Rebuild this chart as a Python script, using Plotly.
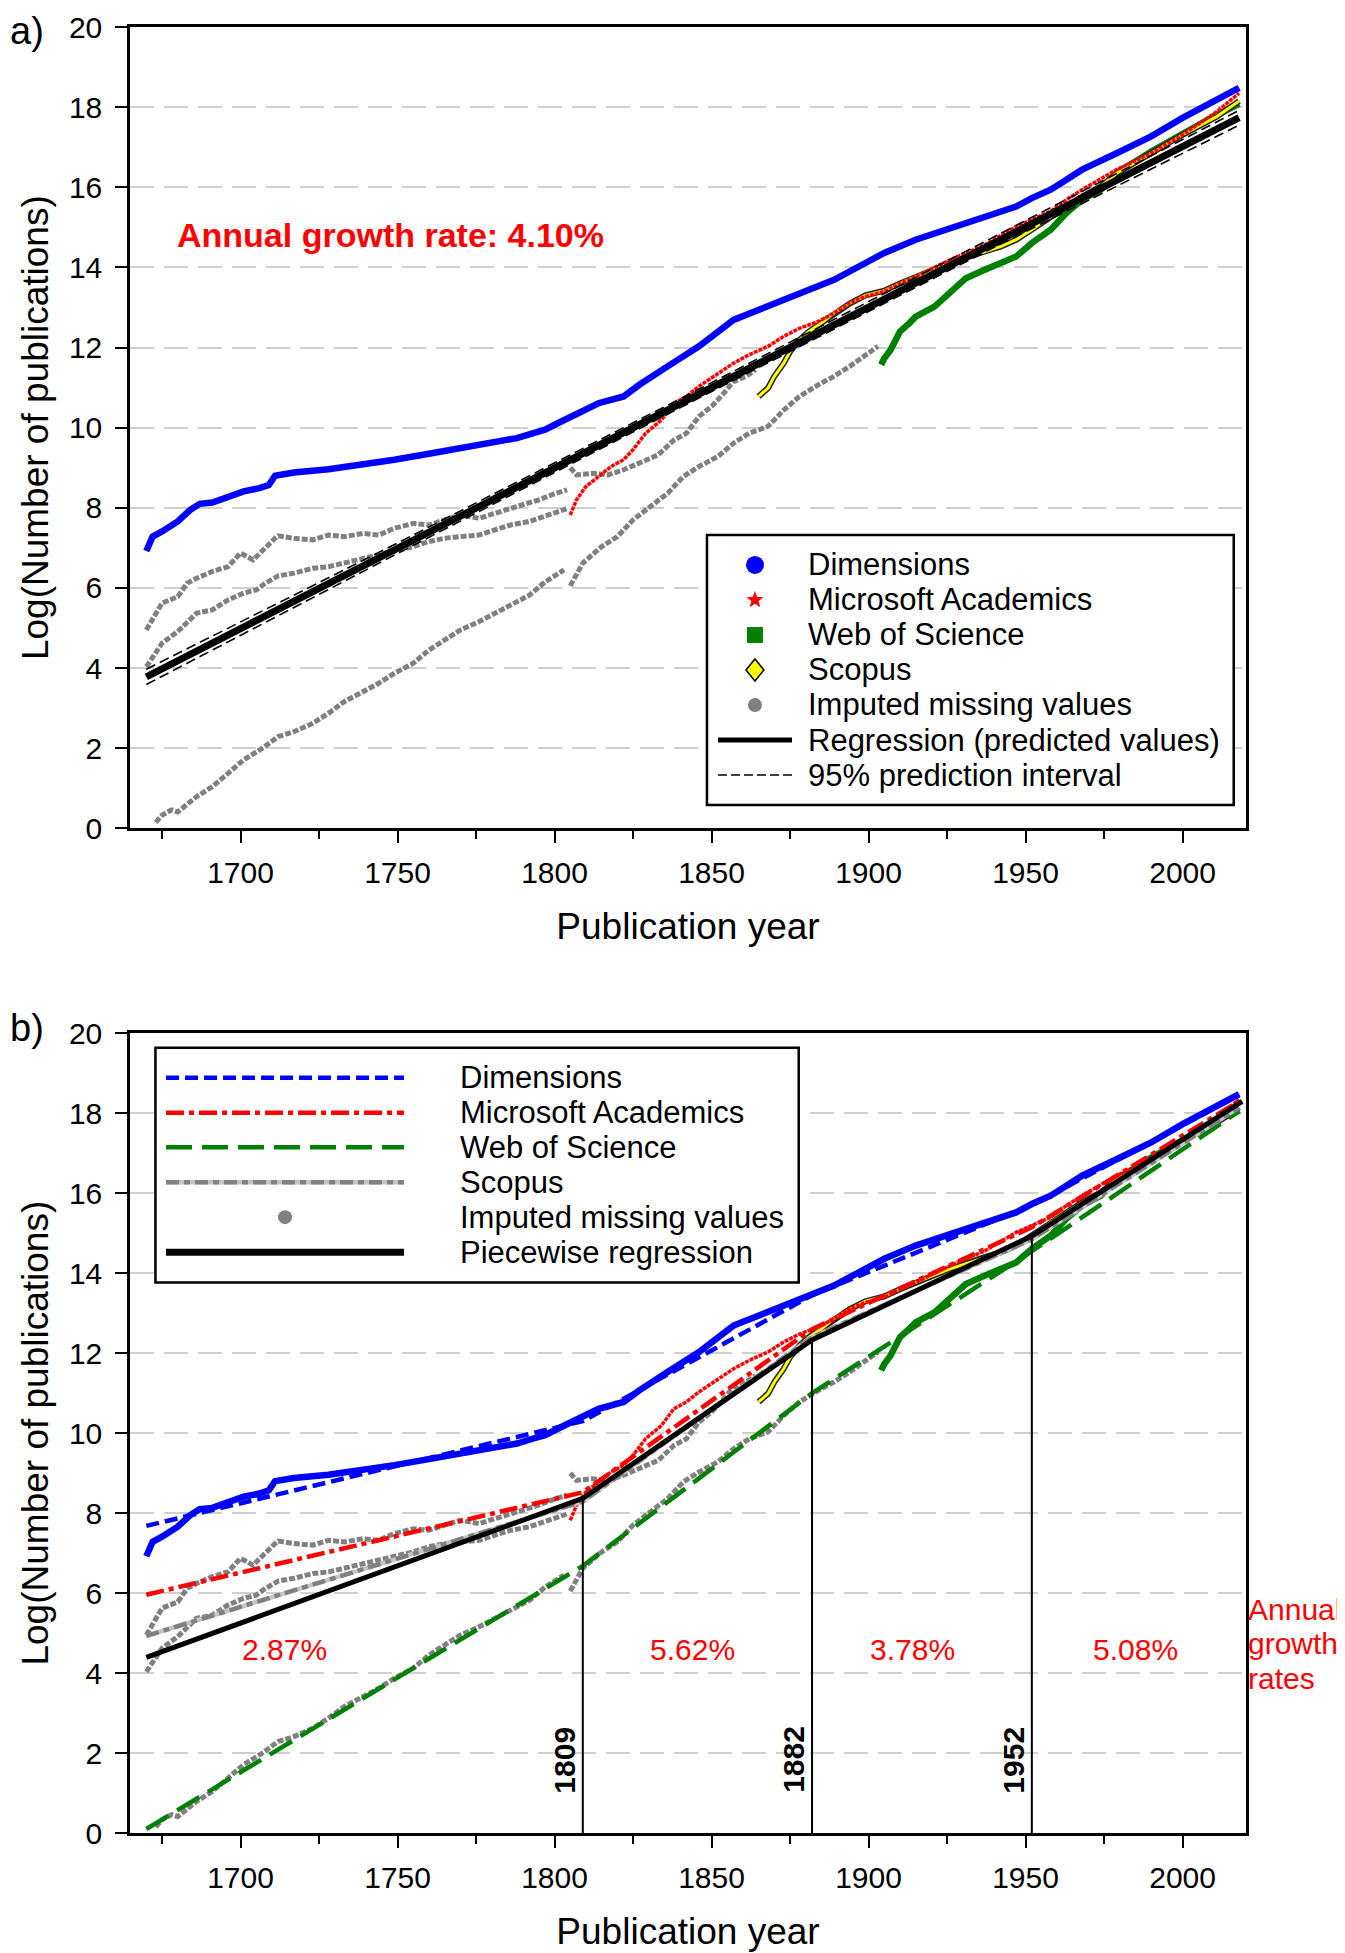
import math
import plotly.graph_objects as go

# ---------------- data ----------------
dim_years = [1670, 1672, 1675, 1680, 1684, 1687, 1691, 1696, 1701, 1706, 1709, 1711, 1717, 1728, 1738,
             1749, 1760, 1770, 1781, 1788, 1793, 1797, 1801, 1809, 1814, 1822, 1827, 1836, 1846, 1857,
             1868, 1878, 1889, 1899, 1905, 1915, 1926, 1936, 1942, 1947, 1952, 1958, 1963, 1968, 1979,
             1990, 2000, 2011, 2018]
dim_vals = [6.92, 7.28, 7.41, 7.66, 7.95, 8.10, 8.13, 8.28, 8.41, 8.49, 8.57, 8.80, 8.88, 8.96, 9.06,
            9.20, 9.35, 9.49, 9.61, 9.74, 9.86, 9.95, 10.11, 10.40, 10.61, 10.78, 11.07, 11.53, 12.03, 12.69,
            13.03, 13.36, 13.69, 14.11, 14.36, 14.69, 14.98, 15.27, 15.40, 15.52, 15.73, 15.94, 16.19, 16.44, 16.85,
            17.27, 17.73, 18.19, 18.48]

ma_years = [1805, 1807, 1810, 1815, 1818, 1822, 1825, 1829, 1834, 1838, 1842, 1846, 1852, 1857, 1862,
            1868, 1873, 1878, 1884, 1889, 1894, 1899, 1905, 1910, 1915, 1926, 1937, 1947, 1958, 1963,
            1968, 1979, 1990, 2000, 2011, 2018]
ma_vals = [7.82, 8.20, 8.53, 8.86, 9.03, 9.20, 9.45, 9.86, 10.19, 10.61, 10.78, 11.03, 11.36, 11.61, 11.82,
           12.03, 12.28, 12.48, 12.65, 12.86, 13.11, 13.27, 13.40, 13.60, 13.77, 14.19, 14.56, 15.02, 15.40, 15.69,
           15.94, 16.44, 16.85, 17.31, 17.89, 18.35]

wos_years = [1904, 1905, 1907, 1908, 1910, 1913, 1915, 1921, 1926, 1931, 1937, 1942, 1947, 1952, 1958,
             1963, 1968, 1974, 1979, 1990, 2000, 2011, 2018]
wos_vals = [11.57, 11.73, 11.94, 12.11, 12.40, 12.61, 12.77, 13.02, 13.36, 13.73, 13.94, 14.11, 14.27, 14.61, 14.94,
            15.36, 15.69, 15.94, 16.35, 16.89, 17.35, 17.81, 18.08]

scopus_years = [1865, 1868, 1870, 1873, 1875, 1878, 1881, 1885, 1889, 1894, 1899, 1905, 1910, 1915, 1926,
                1937, 1942, 1947, 1952, 1958, 1963, 1968, 1974, 1979, 1990, 2000, 2011, 2018]
scopus_vals = [10.78, 10.99, 11.28, 11.61, 11.90, 12.19, 12.40, 12.61, 12.86, 13.10, 13.30, 13.42, 13.60, 13.77, 14.11,
               14.40, 14.52, 14.69, 14.94, 15.27, 15.52, 15.77, 16.02, 16.35, 16.85, 17.31, 17.77, 18.15]

# imputed missing values (grey)
ma_imp_years = [1670, 1672, 1675, 1680, 1683, 1686, 1691, 1696, 1700, 1704, 1707, 1711, 1712, 1717, 1723,
                1728, 1733, 1739, 1744, 1749, 1755, 1760, 1765, 1770, 1776, 1781, 1784, 1790, 1795, 1800, 1804]
ma_imp_vals = [4.95, 5.24, 5.62, 5.78, 6.12, 6.24, 6.41, 6.53, 6.87, 6.70, 6.95, 7.24, 7.30, 7.24, 7.20,
               7.32, 7.28, 7.36, 7.32, 7.49, 7.61, 7.57, 7.70, 7.82, 7.74, 7.86, 7.95, 8.10, 8.20, 8.35, 8.45]

scopus_imp1_years = [1670, 1672, 1675, 1680, 1686, 1691, 1696, 1701, 1705, 1708, 1712, 1717, 1723, 1728, 1733,
                     1739, 1744, 1749, 1755, 1760, 1765, 1770, 1776, 1781, 1786, 1792, 1797, 1801, 1804]
scopus_imp1_vals = [4.03, 4.29, 4.62, 4.91, 5.37, 5.45, 5.70, 5.87, 5.95, 6.12, 6.30, 6.37, 6.49, 6.53, 6.62,
                    6.74, 6.82, 6.91, 7.03, 7.16, 7.24, 7.28, 7.32, 7.45, 7.57, 7.66, 7.78, 7.90, 7.98]
scopus_imp2_years = [1805, 1807, 1812, 1817, 1822, 1827, 1833, 1838, 1842, 1846, 1850, 1853, 1857, 1861, 1864]
scopus_imp2_vals = [9.00, 8.82, 8.86, 8.82, 8.95, 9.11, 9.32, 9.69, 9.86, 10.28, 10.53, 10.78, 11.15, 11.28, 11.44]

wos_imp1_years = [1673, 1675, 1678, 1680, 1686, 1691, 1696, 1701, 1707, 1712, 1717, 1723, 1728, 1733, 1739,
                  1744, 1749, 1755, 1760, 1765, 1770, 1776, 1781, 1786, 1792, 1797, 1803]
wos_imp1_vals = [0.15, 0.33, 0.46, 0.41, 0.79, 1.04, 1.37, 1.71, 2.00, 2.29, 2.41, 2.62, 2.87, 3.16, 3.41,
                 3.62, 3.87, 4.12, 4.45, 4.70, 4.95, 5.16, 5.37, 5.57, 5.82, 6.15, 6.45]
wos_imp2_years = [1805, 1809, 1815, 1820, 1825, 1829, 1836, 1841, 1846, 1852, 1857, 1862, 1868, 1873, 1878,
                  1884, 1889, 1894, 1899, 1903]
wos_imp2_vals = [6.05, 6.62, 7.03, 7.28, 7.70, 7.95, 8.36, 8.78, 9.03, 9.28, 9.61, 9.86, 10.03, 10.44, 10.78,
                 11.07, 11.28, 11.53, 11.82, 12.03]

# panel a: overall regression + 95% prediction interval
reg_years = [1670, 2018]
reg_vals = [3.78, 17.74]
pi_years = [1670, 1750, 1844, 1940, 2018]
pi_upper = [3.97, 7.12, 10.88, 14.76, 17.92]
pi_lower = [3.59, 6.86, 10.66, 14.50, 17.55]

# panel b: piecewise regressions
seg_years = [1670, 1809, 1882, 1952, 2018]
dim_reg = [7.68, 10.30, 13.45, 15.70, 18.45]
ma_reg = [5.96, 8.52, 12.60, 15.15, 18.30]
wos_reg = [0.10, 6.68, 11.00, 14.55, 18.05]
scopus_reg = [4.93, 8.29, 12.40, 14.85, 18.15]
pw_years = [1670, 1809, 1882, 1952, 2019]
pw_vals = [4.39, 8.37, 12.33, 14.93, 18.30]
break_years = [1809, 1882, 1952]
rate_labels = ["2.87%", "5.62%", "3.78%", "5.08%"]
rate_label_x = [1714, 1844, 1914, 1985]
rate_label_y = 4.6

# ---------------- styling ----------------
FONT = "Liberation Sans, Arial, Helvetica, sans-serif"
BLUE, RED, GREEN, YELLOW = "#0000ff", "#ff0000", "#008000", "#ffff00"
GREY, LGREY = "#808080", "#c4c4c4"

fig = go.Figure()


def line(xs, ys, ax, color, width, dash="solid"):
    xa, ya = ax
    fig.add_trace(go.Scatter(x=xs, y=ys, mode="lines", xaxis=xa, yaxis=ya,
                             line=dict(color=color, width=width, dash=dash),
                             showlegend=False, hoverinfo="skip"))


def data_series(ax):
    imp_dash = "6px,2px"
    line(ma_imp_years, ma_imp_vals, ax, GREY, 5, imp_dash)
    line(scopus_imp1_years, scopus_imp1_vals, ax, GREY, 5, imp_dash)
    line(scopus_imp2_years, scopus_imp2_vals, ax, GREY, 5, imp_dash)
    line(wos_imp1_years, wos_imp1_vals, ax, GREY, 5, imp_dash)
    line(wos_imp2_years, wos_imp2_vals, ax, GREY, 5, imp_dash)
    line(dim_years, dim_vals, ax, BLUE, 6.5)
    line(wos_years, wos_vals, ax, GREEN, 6.5)
    line(scopus_years, scopus_vals, ax, "#222222", 6)
    line(scopus_years, scopus_vals, ax, YELLOW, 3)
    line(ma_years, ma_vals, ax, RED, 3.5, "4px,1px")


A = ("x", "y")
B = ("x2", "y2")

# panel a
data_series(A)
line(pi_years, pi_upper, A, "black", 1.6, "10px,5px")
line(pi_years, pi_lower, A, "black", 1.6, "10px,5px")
line(reg_years, reg_vals, A, "black", 7)

# panel b
data_series(B)
line(seg_years, wos_reg, B, GREEN, 4.5, "26px,10px")
line(seg_years, scopus_reg, B, LGREY, 4.5)
line(seg_years, scopus_reg, B, GREY, 4.5, "13px,5px,6px,5px")
line(seg_years, ma_reg, B, RED, 4.5, "18px,5px,5px,5px")
line(seg_years, dim_reg, B, BLUE, 4.5, "13px,6px")
line(pw_years, pw_vals, B, "black", 5)
for yr in break_years:
    top = pw_vals[pw_years.index(yr)]
    line([yr, yr], [0, top], B, "black", 2)

# ---------------- axes ----------------
xcommon = dict(range=[1664.8, 2020.2], tick0=1700, dtick=50, ticks="outside", ticklen=12, tickwidth=2,
               tickcolor="black", showline=True, linecolor="black", linewidth=2.5, mirror=True,
               showgrid=False, zeroline=False, automargin=False,
               tickfont=dict(family=FONT, size=30, color="black"), ticklabelstandoff=4,
               minor=dict(dtick=25, tick0=1675, ticks="outside", ticklen=8, tickwidth=2, tickcolor="black",
                          showgrid=False),
               title=dict(text="Publication year", font=dict(family=FONT, size=37, color="black"), standoff=26))
ycommon = dict(range=[0, 20], dtick=2, ticks="outside", ticklen=12, tickwidth=2, tickcolor="black",
               showline=True, linecolor="black", linewidth=2.5, mirror=True, zeroline=False, automargin=False,
               showgrid=True, gridcolor="#cfcfcf", gridwidth=1.5, griddash="24px,10px",
               tickfont=dict(family=FONT, size=30, color="black"), ticklabelstandoff=7,
               title=dict(text="Log(Number of publications)", font=dict(family=FONT, size=37, color="black"),
                          standoff=9))

# the page body adds an 8px offset, so the figure is 8px smaller and margins shifted
fig.update_layout(
    width=1337, height=1945,
    margin=dict(l=122, r=99, t=19, b=120, autoexpand=False),
    paper_bgcolor="white", plot_bgcolor="white",
    showlegend=False,
    xaxis=dict(anchor="y", **xcommon),
    yaxis=dict(anchor="x", domain=[0.5563, 1.0], **ycommon),
    xaxis2=dict(anchor="y2", **xcommon),
    yaxis2=dict(anchor="x2", domain=[0.0, 0.4428], **ycommon),
)

shapes = []
annotations = []


def txt(text, x, y, xref, yref, size, color="black", xanchor="left", bold=False, yanchor="middle", **kw):
    annotations.append(dict(text=("<b>%s</b>" % text) if bold else text, x=x, y=y, xref=xref, yref=yref,
                            xanchor=xanchor, yanchor=yanchor, showarrow=False,
                            font=dict(family=FONT, size=size, color=color), **kw))


# panel labels
txt("a)", -0.1093, 1.0105, "paper", "paper", 38, yanchor="top")
txt("b)", -0.1093, 0.4457, "paper", "paper", 38)

# panel a annotation
txt("Annual growth rate: 4.10%", 1679.0, 14.8, "x", "y", 34, RED, bold=True)

# panel b annotations
for lab, xv in zip(rate_labels, rate_label_x):
    txt(lab, xv, rate_label_y, "x2", "y2", 30, RED, xanchor="center")
for yr in break_years:
    txt(str(yr), yr, 1.83, "x2", "y2", 30, "black", xanchor="center", bold=True, textangle=-90, xshift=-18)
for word, yv in zip(["Annual", "growth", "rates"], [5.59, 4.75, 3.87]):
    txt(word, 1.0, yv, "x2 domain", "y2", 30, RED)

# ---------------- legend a (custom) ----------------
shapes.append(dict(type="rect", xref="x domain", yref="y domain", x0=0.517, x1=0.989, y0=0.0291, y1=0.3662,
                   line=dict(color="black", width=2.5), fillcolor="white", layer="above"))
rows_a = [0.3287, 0.2850, 0.2413, 0.1976, 0.1539, 0.1102, 0.0665]
labels_a = ["Dimensions", "Microsoft Academics", "Web of Science", "Scopus", "Imputed missing values",
            "Regression (predicted values)", "95% prediction interval"]
sx = 0.56


def px_shape(kind, xa, ya, r, color, lc=None, lw=0, path=None):
    d = dict(type=kind, xref="x domain", yref="y domain", xsizemode="pixel", ysizemode="pixel",
             xanchor=xa, yanchor=ya, fillcolor=color, line=dict(color=lc or color, width=lw), layer="above")
    if path:
        d["path"] = path
    else:
        d.update(x0=-r, x1=r, y0=-r, y1=r)
    return d


shapes.append(px_shape("circle", sx, rows_a[0], 9, BLUE))
star = []
for i in range(10):
    rr = 9 if i % 2 == 0 else 3.8
    ang = math.pi / 2 + i * math.pi / 5
    star.append("%.2f,%.2f" % (rr * math.cos(ang), rr * math.sin(ang)))
shapes.append(px_shape("path", sx, rows_a[1], 0, RED, path="M" + " L".join(star) + " Z"))
shapes.append(px_shape("rect", sx, rows_a[2], 8, GREEN))
shapes.append(px_shape("path", sx, rows_a[3], 0, YELLOW, lc="black", lw=1.5, path="M0,11 L9,0 L0,-11 L-9,0 Z"))
shapes.append(px_shape("circle", sx, rows_a[4], 7, GREY))
shapes.append(dict(type="line", xref="x domain", yref="y domain", x0=0.5269, x1=0.5932, y0=rows_a[5], y1=rows_a[5],
                   line=dict(color="black", width=5), layer="above"))
shapes.append(dict(type="line", xref="x domain", yref="y domain", x0=0.5269, x1=0.5932, y0=rows_a[6], y1=rows_a[6],
                   line=dict(color="black", width=1.5, dash="9px,4px"), layer="above"))
for lab, yv in zip(labels_a, rows_a):
    txt(lab, 0.606, yv, "x domain", "y domain", 31)

# ---------------- legend b (custom) ----------------
shapes.append(dict(type="rect", xref="x2 domain", yref="y2 domain", x0=0.0228, x1=0.5992, y0=0.6883, y1=0.982,
                   line=dict(color="black", width=2.5), fillcolor="white", layer="above"))
rows_b = [0.9445, 0.9008, 0.8576, 0.8138, 0.7701, 0.7263]
labels_b = ["Dimensions", "Microsoft Academics", "Web of Science", "Scopus", "Imputed missing values",
            "Piecewise regression"]
lx0, lx1 = 0.0323, 0.2455
styles_b = [[(BLUE, 4.5, "13px,6px")], [(RED, 4.5, "18px,5px,5px,5px")], [(GREEN, 4.5, "26px,10px")],
            [(LGREY, 4.5, "solid"), (GREY, 4.5, "13px,5px,6px,5px")], [], [("black", 7, "solid")]]
for st, yv in zip(styles_b, rows_b):
    for (c, w, dsh) in st:
        shapes.append(dict(type="line", xref="x2 domain", yref="y2 domain", x0=lx0, x1=lx1, y0=yv, y1=yv,
                           line=dict(color=c, width=w, dash=dsh), layer="above"))
d = px_shape("circle", 0.1389, rows_b[4], 7, GREY)
d.update(xref="x2 domain", yref="y2 domain")
shapes.append(d)
for lab, yv in zip(labels_b, rows_b):
    txt(lab, 0.2935, yv, "x2 domain", "y2 domain", 31)

fig.update_layout(shapes=shapes, annotations=annotations)
fig.write_html("out.html")
